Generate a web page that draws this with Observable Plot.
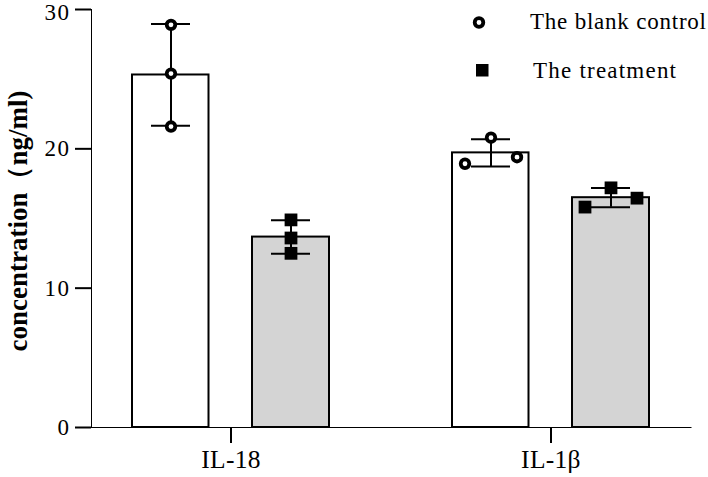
<!DOCTYPE html>
<html>
<head>
<meta charset="utf-8">
<script src="https://cdn.jsdelivr.net/npm/d3@7"></script>
<script src="https://cdn.jsdelivr.net/npm/@observablehq/plot@0.6"></script>
<style>
  html, body { margin: 0; padding: 0; background: white; }
  #wrap { position: relative; width: 708px; height: 477px; }
  #wrap svg { display: block; }
  #chart g[aria-label*="axis"] line,
  #chart g[aria-label*="axis"] path { stroke-width: 2px; stroke: black; }
  #chart g[aria-label*="y-axis"] text { font-size: 23px; letter-spacing: 1.5px; }
  #chart g[aria-label*="x-axis"] text { font-size: 25.5px; letter-spacing: 0.3px; }
  #legend { position: absolute; left: 0; top: 0; pointer-events: none; }
</style>
</head>
<body>
<div id="wrap"><div id="chart"></div></div>
<script>
// ---- data ----
const categories = ["IL-18", "IL-1β"];
const groups = ["The blank control", "The treatment"];
// individual replicate values, listed left-to-right as drawn
const blankControl = {
  "IL-18": [28.9, 25.4, 21.6],
  "IL-1β": [18.93, 20.8, 19.4]
};
const treatment = {
  "IL-18": [14.9, 13.6, 12.5],
  "IL-1β": [15.82, 17.2, 16.46]
};
const yTicks = [0, 10, 20, 30];
const yLabel = "concentration（ng/ml)";

// ---- build tables ----
const seriesByGroup = {"The blank control": blankControl, "The treatment": treatment};
const points = [];
const summary = [];
for (const g of groups) {
  for (const c of categories) {
    const vals = seriesByGroup[g][c];
    vals.forEach((v, i) => points.push({cat: c, group: g, i, value: v}));
    const mean = d3.mean(vals), sd = d3.deviation(vals);
    summary.push({cat: c, group: g, mean, lo: mean - sd, hi: mean + sd});
  }
}

// ---- layout / style (not data) ----
const groupShift = {"The blank control": -60, "The treatment": 60};
const spread = {"IL-18": 0, "IL-1β": 26};
const fills = {"The blank control": "white", "The treatment": "#d4d4d4"};
const barInset = {"The blank control": [41, 161.5], "The treatment": [161, 41]};

const marks = [];
for (const g of groups) {
  const rows = summary.filter(d => d.group === g);
  marks.push(Plot.barY(rows, {
    x: "cat", y: "mean", fill: fills[g], stroke: "black", strokeWidth: 2,
    insetLeft: barInset[g][0], insetRight: barInset[g][1]
  }));
}
for (const g of groups) {
  const rows = summary.filter(d => d.group === g);
  marks.push(Plot.ruleX(rows, {x: "cat", y1: "lo", y2: "hi", dx: groupShift[g], stroke: "black", strokeWidth: 2}));
  marks.push(Plot.tickY(rows, {x: "cat", y: "lo", dx: groupShift[g], inset: 120, stroke: "black", strokeWidth: 2}));
  marks.push(Plot.tickY(rows, {x: "cat", y: "hi", dx: groupShift[g], inset: 120, stroke: "black", strokeWidth: 2}));
}
for (const g of groups) {
  for (const c of categories) {
    for (let i = 0; i < 3; i++) {
      const rows = points.filter(d => d.group === g && d.cat === c && d.i === i);
      const dx = groupShift[g] + (i - 1) * spread[c];
      if (g === "The blank control") {
        marks.push(Plot.dot(rows, {x: "cat", y: "value", dx, r: 4.3, symbol: "circle", fill: "white", stroke: "black", strokeWidth: 3.8}));
      } else {
        marks.push(Plot.dot(rows, {x: "cat", y: "value", dx, r: 7.2, symbol: "square", fill: "black", stroke: "none"}));
      }
    }
  }
}

const chart = Plot.plot({
  width: 708,
  height: 477,
  marginLeft: 91,
  marginRight: 17.5,
  marginTop: 9,
  marginBottom: 50,
  style: {fontFamily: "'Liberation Serif', 'Times New Roman', serif", fontSize: "24px", color: "black", background: "white"},
  x: {domain: categories, paddingInner: 0.127, paddingOuter: 0, tickSize: 16, tickPadding: 6, label: null, line: true},
  y: {domain: [0, 30], ticks: yTicks, tickSize: 16, tickPadding: 5, label: null, line: true},
  marks
});
document.getElementById("chart").appendChild(chart);

// keep the top tick label ("30") fully inside the picture
chart.querySelectorAll('g[aria-label*="y-axis"] text').forEach(t => {
  if (t.textContent.trim() === String(yTicks[yTicks.length - 1])) {
    const cur = t.getAttribute("dy");
    if (cur && cur.endsWith("em")) t.setAttribute("dy", (parseFloat(cur) + 0.14) + "em");
    else t.setAttribute("dy", "3px");
  }
});

// ---- y-axis title and legend overlay ----
const ns = "http://www.w3.org/2000/svg";
const leg = document.createElementNS(ns, "svg");
leg.setAttribute("id", "legend");
leg.setAttribute("width", 708);
leg.setAttribute("height", 477);
leg.innerHTML = `
  <text transform="translate(27,221) rotate(-90)" text-anchor="middle" font-family="'Liberation Serif', serif" font-weight="bold" font-size="27" fill="black">${yLabel}</text>
  <circle cx="479" cy="22.5" r="4.3" fill="white" stroke="black" stroke-width="3.8"></circle>
  <rect x="476" y="64" width="12.5" height="12.5" fill="black"></rect>
  <text x="530" y="29" font-family="'Liberation Serif', serif" font-size="23" textLength="176" lengthAdjust="spacing" fill="black">${groups[0]}</text>
  <text x="533" y="78" font-family="'Liberation Serif', serif" font-size="23" textLength="143" lengthAdjust="spacing" fill="black">${groups[1]}</text>`;
document.getElementById("wrap").appendChild(leg);
</script>
</body>
</html>
